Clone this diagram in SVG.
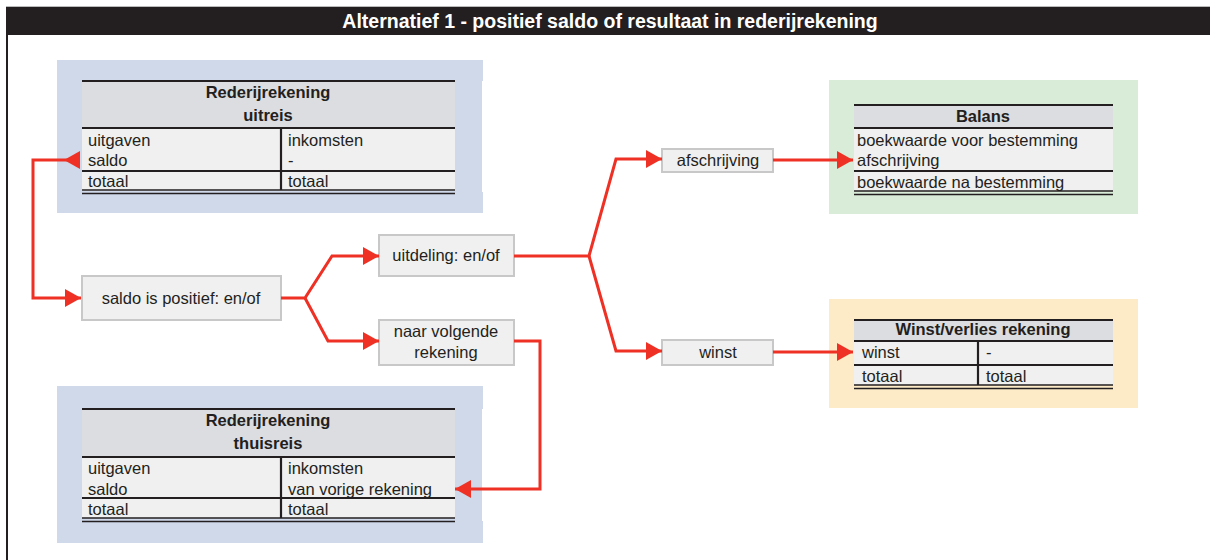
<svg xmlns="http://www.w3.org/2000/svg" width="1210" height="560" viewBox="0 0 1210 560">
<style>
text{font-family:"Liberation Sans",Arial,sans-serif;fill:#231f20;font-size:16.5px}
.b{font-weight:bold}
.c{text-anchor:middle}
.hd{fill:#dcdde0}
.bd{fill:#f0f0f0}
.ln{stroke:#231f20;stroke-width:2.2;fill:none}
.ln2{stroke:#231f20;stroke-width:1.6;fill:none}
.box{fill:#f0f0f0;stroke:#c8c8c8;stroke-width:2}
.con{stroke:#ee3124;stroke-width:3;fill:none;stroke-linejoin:miter}
</style>
<defs>
<marker id="ah" viewBox="0 0 16 18" refX="16" refY="9" markerWidth="16" markerHeight="18" markerUnits="userSpaceOnUse" orient="auto">
<path d="M0,0 L16,9 L0,18 Z" fill="#ee3124"/>
</marker>
<marker id="ahs" viewBox="0 0 16 18" refX="0" refY="9" markerWidth="16" markerHeight="18" markerUnits="userSpaceOnUse" orient="auto">
<path d="M0,0 L16,9 L0,18 Z" fill="#ee3124"/>
</marker>
</defs>
<rect x="0" y="0" width="1210" height="560" fill="#fff"/>
<line x1="6" y1="6.5" x2="1210" y2="6.5" stroke="#bbb" stroke-width="1"/>
<rect x="6" y="7" width="1204" height="28" fill="#231f20"/>
<line x1="7" y1="35" x2="7" y2="560" stroke="#231f20" stroke-width="2"/>
<text x="610" y="28" class="c b" style="fill:#fff;font-size:19.5px">Alternatief 1 - positief saldo of resultaat in rederijrekening</text>

<g id="uitreis">
<rect x="57" y="60" width="426" height="153" fill="#cfd9ea"/>
<rect x="482" y="81" width="1.5" height="111" fill="#fff"/>
<rect x="82" y="80" width="373" height="48" class="hd"/>
<rect x="82" y="128" width="373" height="63" class="bd"/>
<line x1="82" y1="81" x2="455" y2="81" class="ln"/>
<line x1="82" y1="128" x2="455" y2="128" class="ln"/>
<line x1="82" y1="171" x2="455" y2="171" class="ln"/>
<line x1="82" y1="190" x2="455" y2="190" class="ln2"/>
<line x1="82" y1="193.5" x2="455" y2="193.5" class="ln2"/>
<line x1="281" y1="128" x2="281" y2="190" class="ln"/>
<text x="268" y="98" class="c b">Rederijrekening</text>
<text x="268" y="121" class="c b">uitreis</text>
<text x="88" y="146">uitgaven</text>
<text x="88" y="166">saldo</text>
<text x="88" y="187">totaal</text>
<text x="288" y="146">inkomsten</text>
<text x="288" y="166">-</text>
<text x="288" y="187">totaal</text>
</g>

<g id="thuisreis">
<rect x="57" y="386" width="426" height="157" fill="#cfd9ea"/>
<rect x="482" y="409" width="1.5" height="112" fill="#fff"/>
<rect x="82" y="409" width="373" height="48" class="hd"/>
<rect x="82" y="457" width="373" height="61" class="bd"/>
<line x1="82" y1="409" x2="455" y2="409" class="ln"/>
<line x1="82" y1="457" x2="455" y2="457" class="ln"/>
<line x1="82" y1="498" x2="455" y2="498" class="ln"/>
<line x1="82" y1="518" x2="455" y2="518" class="ln2"/>
<line x1="82" y1="521.5" x2="455" y2="521.5" class="ln2"/>
<line x1="281" y1="457" x2="281" y2="518" class="ln"/>
<text x="268" y="426" class="c b">Rederijrekening</text>
<text x="268" y="449" class="c b">thuisreis</text>
<text x="88" y="474">uitgaven</text>
<text x="88" y="495">saldo</text>
<text x="88" y="515">totaal</text>
<text x="288" y="474">inkomsten</text>
<text x="288" y="495">van vorige rekening</text>
<text x="288" y="515">totaal</text>
</g>

<g id="balans">
<rect x="829" y="80" width="309" height="134" fill="#d9ecd7"/>
<rect x="854" y="105" width="259" height="23" class="hd"/>
<rect x="854" y="128" width="259" height="63" class="bd"/>
<line x1="854" y1="105" x2="1113" y2="105" class="ln"/>
<line x1="854" y1="128" x2="1113" y2="128" class="ln"/>
<line x1="854" y1="171" x2="1113" y2="171" class="ln"/>
<line x1="854" y1="191" x2="1113" y2="191" class="ln2"/>
<line x1="854" y1="194.5" x2="1113" y2="194.5" class="ln2"/>
<text x="983" y="122" class="c b">Balans</text>
<text x="857" y="146">boekwaarde voor bestemming</text>
<text x="857" y="166">afschrijving</text>
<text x="857" y="188">boekwaarde na bestemming</text>
</g>

<g id="winstverlies">
<rect x="829" y="299" width="309" height="109" fill="#fdebc8"/>
<rect x="854" y="320" width="259" height="20" class="hd"/>
<rect x="854" y="340" width="259" height="45" class="bd"/>
<line x1="854" y1="320" x2="1113" y2="320" class="ln"/>
<line x1="854" y1="341" x2="1113" y2="341" class="ln"/>
<line x1="854" y1="365" x2="1113" y2="365" class="ln"/>
<line x1="854" y1="385" x2="1113" y2="385" class="ln2"/>
<line x1="854" y1="388.5" x2="1113" y2="388.5" class="ln2"/>
<line x1="978" y1="341" x2="978" y2="385" class="ln"/>
<text x="983" y="335" class="c b">Winst/verlies rekening</text>
<text x="862" y="358">winst</text>
<text x="862" y="382">totaal</text>
<text x="986" y="358">-</text>
<text x="986" y="382">totaal</text>
</g>

<g id="saldo">
<rect x="82" y="276" width="199" height="44" class="box"/>
<text x="181" y="304" class="c">saldo is positief: en/of</text>
</g>
<g id="uitdeling">
<rect x="379" y="235" width="135" height="41" class="box"/>
<text x="446" y="261" class="c">uitdeling: en/of</text>
</g>
<g id="naarvolgende">
<rect x="379" y="320" width="135" height="45" class="box"/>
<text x="446" y="337" class="c">naar volgende</text>
<text x="446" y="358" class="c">rekening</text>
</g>
<g id="afschrijving">
<rect x="662" y="149" width="111" height="23" class="box"/>
<text x="718" y="166" class="c">afschrijving</text>
</g>
<g id="winst">
<rect x="662" y="340" width="111" height="25" class="box"/>
<text x="718" y="358" class="c">winst</text>
</g>

<g id="connectors">
<path d="M80,160 L33,160 L33,298 L81,298" class="con" marker-start="url(#ahs)" marker-end="url(#ah)"/>
<path d="M281,298 L305,298 L332,256 L379,256" class="con" marker-end="url(#ah)"/>
<path d="M305,298 L328,341 L379,341" class="con" marker-end="url(#ah)"/>
<path d="M514,341 L540,341 L540,489 L455,489" class="con" marker-end="url(#ah)"/>
<path d="M514,256 L589,256 L616,159 L662,159" class="con" marker-end="url(#ah)"/>
<path d="M589,256 L616,351 L662,351" class="con" marker-end="url(#ah)"/>
<path d="M773,160 L853,160" class="con" marker-end="url(#ah)"/>
<path d="M773,352 L853,352" class="con" marker-end="url(#ah)"/>
</g>
</svg>
